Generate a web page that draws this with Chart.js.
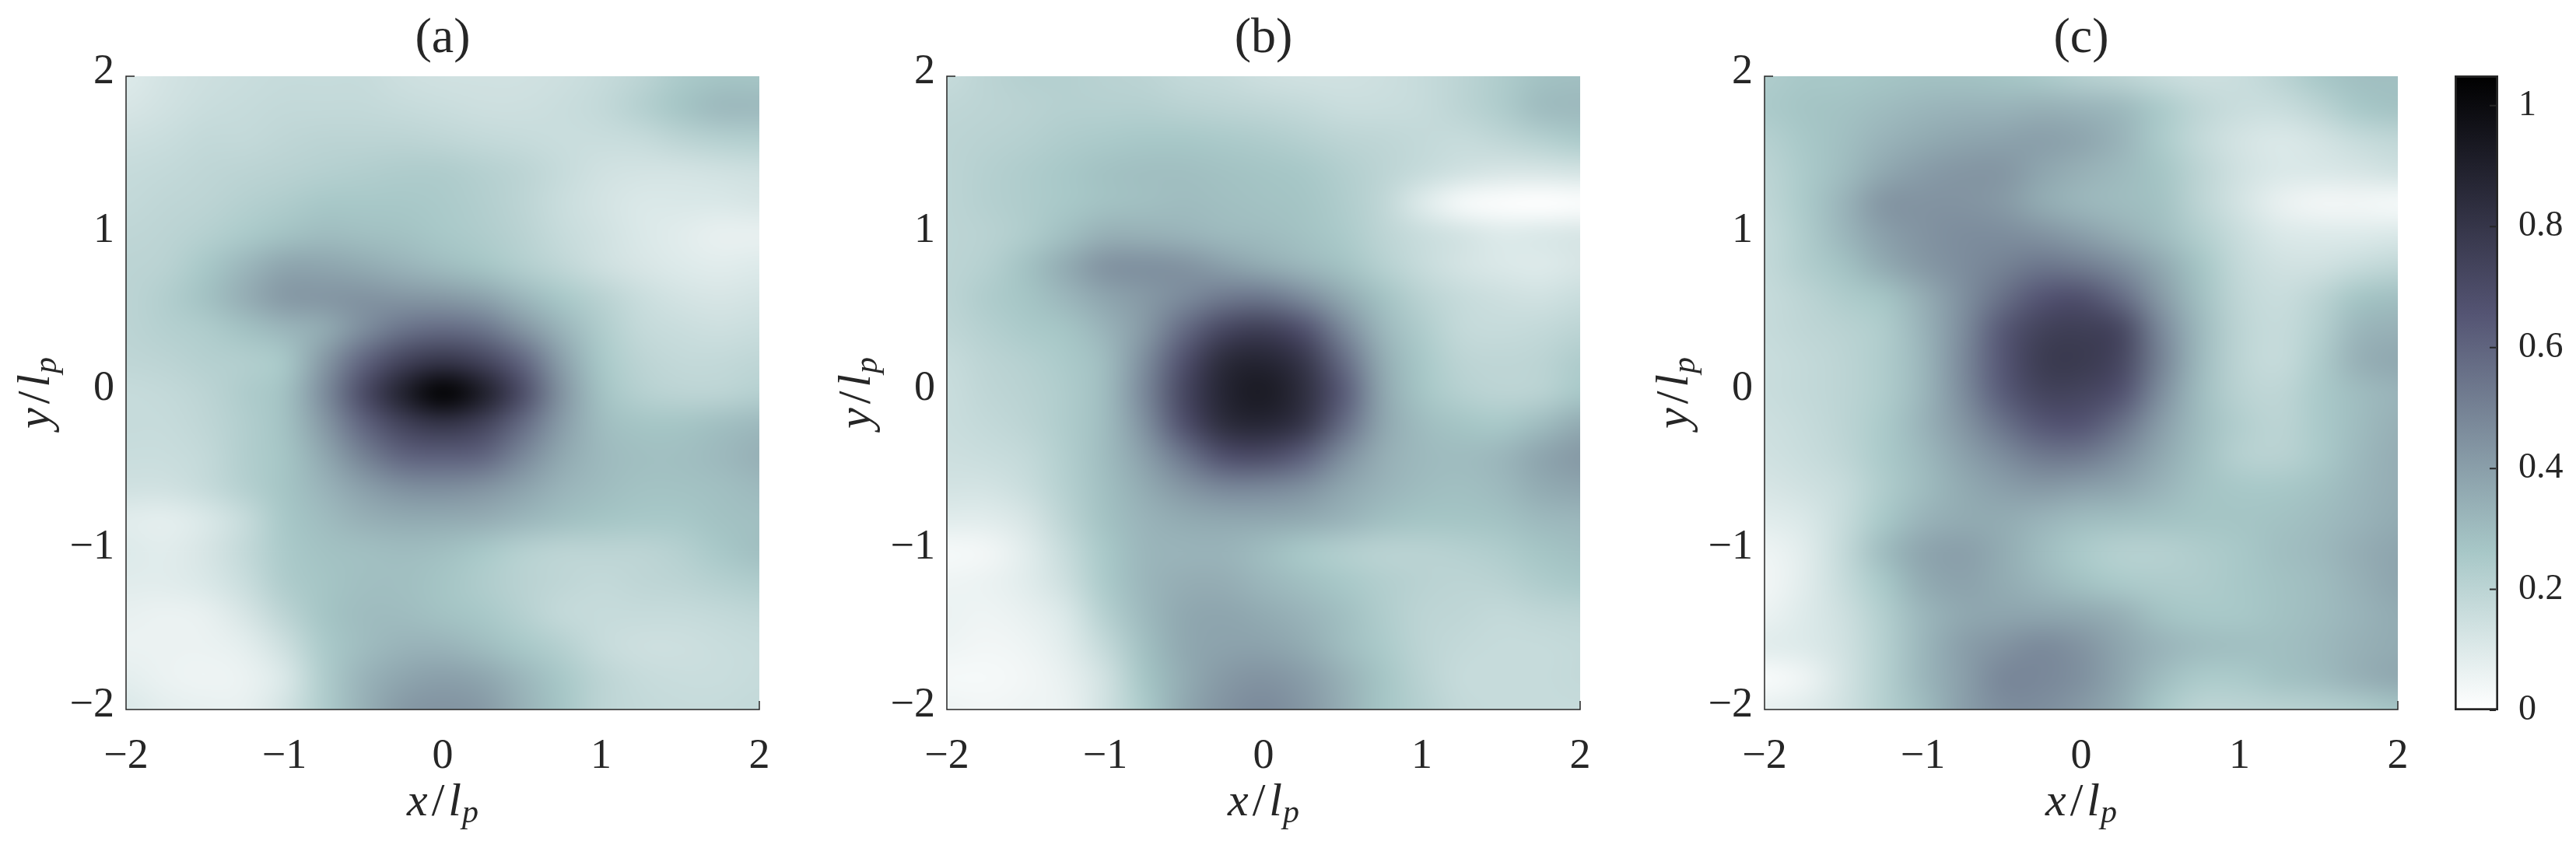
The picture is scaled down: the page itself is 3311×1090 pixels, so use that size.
<!DOCTYPE html>
<html lang="en">
<head>
    <meta charset="UTF-8">
    <title>Panels a b c</title>
    <style>
        body { margin: 0; background: #fff; }
        canvas { position: absolute; top: 0; }
    </style>
</head>
<body>
    <canvas id="panel-a"></canvas>
    <canvas id="panel-b"></canvas>
    <canvas id="panel-c"></canvas>
    <canvas id="colorbar"></canvas>

    <script src="https://cdn.jsdelivr.net/npm/chart.js"></script>
    <script>
        const xGrid = [-2, -1.75, -1.5, -1.25, -1, -0.75, -0.5, -0.25, 0, 0.25, 0.5, 0.75, 1, 1.25, 1.5, 1.75, 2];
        const yGrid = [2, 1.8, 1.6, 1.4, 1.2, 1, 0.8, 0.6, 0.4, 0.2, 0, -0.2, -0.4, -0.6, -0.8, -1, -1.2, -1.4, -1.6, -1.8, -2];
        const axisTicks = [-2, -1, 0, 1, 2];
        const panelTitles = ['(a)', '(b)', '(c)'];
        const colorbarTicks = [0, 0.2, 0.4, 0.6, 0.8, 1];
        const colorMax = 1.05;

        // flipped bone colormap, value -> rgb
        const cmapStops = [0, 0.2625, 0.656, 1.05];
        const cmapColors = [[255, 255, 255], [167, 199, 199], [84, 84, 115], [0, 0, 0]];

        // rows run from y=2 down to y=-2, columns from x=-2 to x=2
        const panelA = [
            [.10, .13, .15, .16, .17, .17, .17, .15, .14, .14, .14, .15, .17, .20, .25, .27, .27],
            [.12, .14, .16, .17, .18, .18, .18, .17, .16, .15, .15, .16, .18, .22, .27, .31, .31],
            [.15, .16, .18, .18, .19, .20, .20, .20, .19, .18, .17, .16, .16, .17, .20, .22, .23],
            [.17, .18, .19, .20, .21, .22, .23, .24, .24, .22, .20, .17, .14, .13, .13, .14, .15],
            [.18, .19, .20, .22, .24, .26, .26, .26, .25, .23, .20, .16, .13, .11, .11, .11, .12],
            [.19, .20, .22, .25, .28, .30, .29, .28, .26, .24, .21, .17, .14, .11, .09, .07, .07],
            [.20, .21, .26, .32, .38, .38, .36, .33, .30, .27, .23, .19, .15, .12, .10, .09, .10],
            [.20, .23, .28, .35, .42, .43, .44, .43, .42, .39, .32, .26, .21, .16, .13, .12, .13],
            [.20, .22, .24, .28, .32, .36, .46, .55, .58, .55, .44, .33, .24, .18, .16, .15, .16],
            [.19, .20, .22, .23, .26, .42, .60, .74, .80, .74, .60, .40, .26, .20, .18, .18, .19],
            [.17, .18, .20, .24, .28, .46, .70, .90, 1.05, .92, .70, .44, .28, .22, .20, .20, .22],
            [.17, .17, .19, .23, .28, .42, .60, .74, .80, .74, .58, .41, .30, .27, .27, .29, .31],
            [.16, .16, .18, .23, .27, .37, .50, .60, .62, .60, .48, .37, .31, .29, .29, .31, .34],
            [.14, .14, .17, .22, .27, .33, .40, .45, .46, .44, .39, .33, .30, .28, .28, .29, .31],
            [.09, .08, .11, .17, .26, .30, .34, .36, .36, .35, .32, .29, .27, .26, .26, .28, .29],
            [.10, .09, .12, .18, .25, .28, .29, .30, .29, .26, .22, .20, .20, .20, .22, .26, .29],
            [.09, .09, .11, .16, .24, .27, .29, .29, .27, .24, .21, .19, .18, .19, .20, .22, .24],
            [.07, .06, .07, .12, .20, .27, .30, .30, .28, .26, .22, .18, .17, .17, .17, .18, .19],
            [.06, .06, .06, .08, .15, .25, .30, .33, .33, .30, .26, .22, .17, .15, .15, .16, .17],
            [.08, .06, .05, .06, .11, .24, .33, .38, .40, .38, .32, .26, .20, .17, .16, .16, .17],
            [.11, .08, .07, .07, .13, .24, .34, .42, .44, .42, .34, .27, .20, .18, .17, .17, .18]
        ];
        const panelB = [
            [.17, .20, .22, .22, .21, .20, .18, .17, .15, .14, .14, .15, .17, .20, .24, .28, .29],
            [.19, .20, .21, .22, .22, .22, .21, .20, .19, .18, .16, .16, .17, .20, .24, .30, .31],
            [.20, .21, .22, .24, .25, .26, .26, .25, .24, .22, .20, .19, .18, .17, .19, .22, .25],
            [.20, .22, .24, .26, .28, .29, .29, .28, .27, .26, .23, .20, .17, .14, .12, .12, .13],
            [.20, .22, .24, .26, .28, .29, .30, .29, .28, .27, .24, .19, .10, .03, .01, .00, .01],
            [.20, .21, .24, .29, .34, .34, .33, .31, .30, .28, .25, .20, .16, .13, .10, .11, .12],
            [.20, .22, .28, .36, .44, .45, .44, .40, .36, .32, .28, .22, .17, .13, .11, .10, .12],
            [.20, .24, .27, .32, .38, .42, .47, .53, .54, .47, .37, .28, .21, .17, .15, .14, .16],
            [.19, .22, .25, .27, .33, .42, .58, .72, .76, .68, .48, .32, .24, .18, .17, .18, .20],
            [.17, .20, .22, .25, .30, .46, .68, .85, .88, .80, .58, .36, .26, .20, .19, .20, .24],
            [.16, .19, .21, .24, .30, .48, .72, .88, .93, .84, .64, .38, .27, .22, .20, .21, .26],
            [.16, .18, .20, .24, .30, .45, .68, .84, .87, .80, .58, .38, .30, .27, .26, .30, .36],
            [.15, .16, .18, .23, .30, .40, .54, .68, .70, .62, .46, .35, .31, .30, .32, .38, .42],
            [.13, .13, .16, .22, .29, .36, .43, .48, .48, .45, .38, .33, .30, .29, .31, .36, .38],
            [.09, .09, .12, .20, .28, .33, .36, .37, .37, .36, .33, .29, .27, .27, .28, .31, .32],
            [.03, .04, .09, .17, .26, .32, .33, .33, .30, .26, .23, .21, .21, .22, .24, .27, .29],
            [.05, .06, .09, .15, .25, .32, .35, .35, .32, .29, .26, .23, .21, .20, .21, .24, .26],
            [.06, .05, .07, .11, .22, .31, .37, .38, .36, .33, .29, .24, .20, .19, .18, .19, .20],
            [.05, .04, .05, .09, .18, .29, .37, .39, .39, .36, .30, .25, .20, .18, .17, .17, .18],
            [.03, .03, .04, .07, .14, .27, .36, .42, .44, .41, .34, .27, .21, .17, .17, .17, .18],
            [.05, .04, .05, .06, .14, .25, .37, .44, .47, .43, .35, .27, .22, .18, .17, .17, .17]
        ];
        const panelC = [
            [.24, .26, .26, .27, .28, .28, .27, .25, .22, .20, .17, .15, .16, .20, .26, .29, .29],
            [.25, .27, .28, .30, .32, .33, .33, .34, .33, .31, .25, .19, .16, .16, .20, .26, .28],
            [.22, .26, .29, .33, .36, .38, .39, .40, .38, .33, .25, .18, .13, .11, .13, .17, .19],
            [.20, .25, .30, .37, .41, .43, .43, .38, .34, .31, .27, .20, .14, .11, .11, .12, .14],
            [.19, .25, .33, .43, .44, .44, .42, .36, .32, .30, .28, .20, .13, .07, .04, .04, .03],
            [.18, .24, .32, .40, .44, .46, .46, .44, .40, .35, .30, .23, .16, .11, .10, .10, .11],
            [.18, .23, .28, .36, .42, .46, .50, .54, .52, .46, .37, .27, .18, .14, .14, .17, .19],
            [.17, .20, .24, .27, .35, .45, .56, .66, .68, .58, .42, .29, .19, .16, .20, .27, .29],
            [.17, .19, .21, .24, .33, .46, .64, .74, .76, .72, .48, .31, .20, .17, .22, .32, .34],
            [.16, .18, .20, .24, .32, .47, .65, .77, .78, .72, .50, .31, .20, .17, .24, .34, .37],
            [.16, .18, .20, .24, .32, .46, .63, .73, .73, .67, .46, .30, .21, .19, .25, .30, .33],
            [.15, .17, .20, .25, .33, .43, .55, .65, .66, .56, .41, .30, .23, .20, .25, .30, .34],
            [.14, .16, .19, .25, .31, .39, .46, .53, .53, .46, .37, .29, .22, .21, .25, .31, .35],
            [.12, .14, .17, .24, .30, .36, .40, .42, .40, .38, .33, .28, .26, .26, .28, .32, .35],
            [.09, .11, .17, .26, .33, .36, .36, .33, .30, .29, .28, .27, .27, .28, .30, .33, .36],
            [.05, .09, .18, .30, .38, .40, .36, .30, .25, .22, .22, .24, .26, .29, .31, .35, .38],
            [.04, .09, .17, .26, .36, .39, .36, .32, .28, .25, .24, .24, .26, .28, .30, .34, .38],
            [.06, .10, .15, .23, .32, .37, .38, .38, .37, .34, .28, .26, .26, .28, .30, .33, .36],
            [.09, .10, .14, .22, .32, .40, .44, .47, .44, .38, .33, .30, .29, .29, .31, .34, .36],
            [.02, .05, .13, .22, .32, .40, .48, .48, .45, .38, .30, .25, .25, .28, .30, .34, .37],
            [.07, .09, .14, .22, .30, .40, .46, .46, .42, .36, .26, .20, .20, .21, .22, .24, .27]
        ];

        const inkColor = '#262626';
        const serif = '"Liberation Serif", serif';
        const plotTop = 98, plotSize = 814, canvasHeight = 1090;
        const yAxisSpace = 162, rightSpace = 40;

        function colorOf(v) {
            let i = 0;
            while (i < cmapStops.length - 2 && v > cmapStops[i + 1]) i++;
            const t = Math.min(1, Math.max(0, (v - cmapStops[i]) / (cmapStops[i + 1] - cmapStops[i])));
            return cmapColors[i].map((c, k) => Math.round(c + (cmapColors[i + 1][k] - c) * t));
        }

        // paints the value grid as a smoothed image, placed by the chart's scales
        const heatmapPlugin = {
            id: 'heatmap',
            beforeDatasetsDraw(chart) {
                const grid = chart.options.plugins.heatmap.grid;
                const rows = yGrid.length, cols = xGrid.length;
                const small = document.createElement('canvas');
                small.width = cols;
                small.height = rows;
                const sctx = small.getContext('2d');
                const img = sctx.createImageData(cols, rows);
                grid.forEach((row, j) => row.forEach((v, i) => {
                    const c = colorOf(v);
                    const p = (j * cols + i) * 4;
                    img.data[p] = c[0];
                    img.data[p + 1] = c[1];
                    img.data[p + 2] = c[2];
                    img.data[p + 3] = 255;
                }));
                sctx.putImageData(img, 0, 0);

                const { x, y } = chart.scales;
                const cellW = (x.getPixelForValue(xGrid[cols - 1]) - x.getPixelForValue(xGrid[0])) / (cols - 1);
                const cellH = (y.getPixelForValue(yGrid[rows - 1]) - y.getPixelForValue(yGrid[0])) / (rows - 1);
                const ctx = chart.ctx, area = chart.chartArea;
                ctx.save();
                ctx.beginPath();
                ctx.rect(area.left, area.top, area.width, area.height);
                ctx.clip();
                ctx.imageSmoothingEnabled = true;
                ctx.imageSmoothingQuality = 'high';
                ctx.drawImage(small,
                    x.getPixelForValue(xGrid[0]) - cellW / 2,
                    y.getPixelForValue(yGrid[0]) - cellH / 2,
                    cellW * cols, cellH * rows);
                ctx.restore();
            },
            afterDraw(chart) {
                const ctx = chart.ctx, area = chart.chartArea;
                ctx.save();
                ctx.strokeStyle = inkColor;
                ctx.lineWidth = 1.5;
                ctx.beginPath();
                // box left and bottom, with the two ticks that show at the corners
                ctx.moveTo(area.left + 11, area.top);
                ctx.lineTo(area.left, area.top);
                ctx.lineTo(area.left, area.bottom);
                ctx.lineTo(area.right, area.bottom);
                ctx.lineTo(area.right, area.bottom - 11);
                ctx.stroke();

                ctx.fillStyle = inkColor;
                const cx = (area.left + area.right) / 2;
                drawAxisLabel(ctx, 'x', cx, 1048, 0);
                drawAxisLabel(ctx, 'y', area.left - 99, (area.top + area.bottom) / 2, -Math.PI / 2);
                ctx.restore();
            }
        };

        // x/l_p and y/l_p with a lowered small p
        function drawAxisLabel(ctx, letter, cx, cy, angle) {
            const big = 'italic 60px ' + serif, up = '60px ' + serif, low = 'italic 42px ' + serif;
            ctx.save();
            ctx.translate(cx, cy);
            ctx.rotate(angle);
            ctx.textBaseline = 'alphabetic';
            ctx.textAlign = 'left';
            const parts = [[letter, big, 0, 5], ['/', up, 0, 5], ['l', big, 0, 1], ['p', low, 9, 0]];
            let w = 0;
            parts.forEach(p => { ctx.font = p[1]; w += ctx.measureText(p[0]).width + p[3]; });
            let px = -w / 2;
            parts.forEach(p => {
                ctx.font = p[1];
                ctx.fillText(p[0], px, p[2]);
                px += ctx.measureText(p[0]).width + p[3];
            });
            ctx.restore();
        }

        function gridPoints(grid) {
            const pts = [];
            grid.forEach((row, j) => row.forEach((v, i) => pts.push({ x: xGrid[i], y: yGrid[j], v: v })));
            return pts;
        }

        function tickLabel(v) {
            return v < 0 ? '\u2212' + Math.abs(v) : String(v);
        }

        function makePanel(id, left, title, grid) {
            const canvas = document.getElementById(id);
            const width = yAxisSpace + plotSize + rightSpace;
            canvas.style.left = (left - yAxisSpace) + 'px';
            canvas.width = width;
            canvas.height = canvasHeight;
            new Chart(canvas, {
                type: 'scatter',
                data: { datasets: [{ data: gridPoints(grid), pointRadius: 0, pointHoverRadius: 0 }] },
                options: {
                    responsive: false,
                    animation: false,
                    layout: { padding: { left: 0, right: rightSpace, bottom: 0, top: 0 } },
                    plugins: {
                        legend: { display: false },
                        tooltip: { enabled: false },
                        heatmap: { grid: grid },
                        title: {
                            display: true,
                            fullSize: false,
                            text: title,
                            color: inkColor,
                            font: { family: serif, size: 64, weight: 'normal', lineHeight: 1 },
                            padding: { top: 18, bottom: 16 }
                        }
                    },
                    scales: {
                        x: {
                            type: 'linear', min: -2, max: 2,
                            afterFit(s) { s.height = canvasHeight - plotTop - plotSize; },
                            afterBuildTicks(s) { s.ticks = axisTicks.map(v => ({ value: v })); },
                            grid: { display: false },
                            border: { display: false },
                            ticks: {
                                color: inkColor, padding: 20, maxRotation: 0,
                                font: { family: serif, size: 54 },
                                callback: tickLabel
                            }
                        },
                        y: {
                            type: 'linear', min: -2, max: 2,
                            afterFit(s) { s.width = yAxisSpace; },
                            afterBuildTicks(s) { s.ticks = axisTicks.map(v => ({ value: v })); },
                            grid: { display: false },
                            border: { display: false },
                            ticks: {
                                color: inkColor, padding: 7, labelOffset: -5,
                                font: { family: serif, size: 54 },
                                callback: tickLabel
                            }
                        }
                    }
                },
                plugins: [heatmapPlugin]
            });
        }

        makePanel('panel-a', 162, panelTitles[0], panelA);
        makePanel('panel-b', 1217, panelTitles[1], panelB);
        makePanel('panel-c', 2268, panelTitles[2], panelC);

        // colorbar: one floating bar from 0 to the top of the range
        const barTickPlugin = {
            id: 'barTicks',
            afterDatasetsDraw(chart) {
                const ctx = chart.ctx, y = chart.scales.y, area = chart.chartArea;
                ctx.save();
                ctx.strokeStyle = inkColor;
                ctx.lineWidth = 2;
                ctx.beginPath();
                colorbarTicks.forEach(v => {
                    const py = y.getPixelForValue(v);
                    ctx.moveTo(area.right - 3, py);
                    ctx.lineTo(area.right - 11, py);
                });
                ctx.stroke();
                ctx.restore();
            }
        };

        const barCanvas = document.getElementById('colorbar');
        barCanvas.style.left = '3155px';
        barCanvas.width = 156;
        barCanvas.height = canvasHeight;
        new Chart(barCanvas, {
            type: 'bar',
            data: {
                labels: [''],
                datasets: [{
                    data: [[0, colorMax]],
                    barPercentage: 1,
                    categoryPercentage: 1,
                    borderColor: inkColor,
                    borderWidth: 3,
                    borderSkipped: false,
                    backgroundColor(c) {
                        const area = c.chart.chartArea;
                        if (!area) return '#fff';
                        const y = c.chart.scales.y;
                        const g = c.chart.ctx.createLinearGradient(0, y.getPixelForValue(0), 0, y.getPixelForValue(colorMax));
                        cmapStops.forEach((s, i) => g.addColorStop(s / colorMax, 'rgb(' + cmapColors[i].join(',') + ')'));
                        return g;
                    }
                }]
            },
            options: {
                responsive: false,
                animation: false,
                layout: { padding: { left: 0, right: 0, top: plotTop - 1, bottom: canvasHeight - plotTop - plotSize - 1 } },
                plugins: { legend: { display: false }, tooltip: { enabled: false } },
                scales: {
                    x: { display: false },
                    y: {
                        position: 'right',
                        min: 0, max: colorMax,
                        afterFit(s) { s.width = 100; },
                        afterBuildTicks(s) { s.ticks = colorbarTicks.map(v => ({ value: v })); },
                        grid: { display: false },
                        border: { display: false },
                        ticks: {
                            color: inkColor, padding: 18,
                            font: { family: serif, size: 46 },
                            callback: v => String(v)
                        }
                    }
                }
            },
            plugins: [barTickPlugin]
        });
    </script>
</body>
</html>
